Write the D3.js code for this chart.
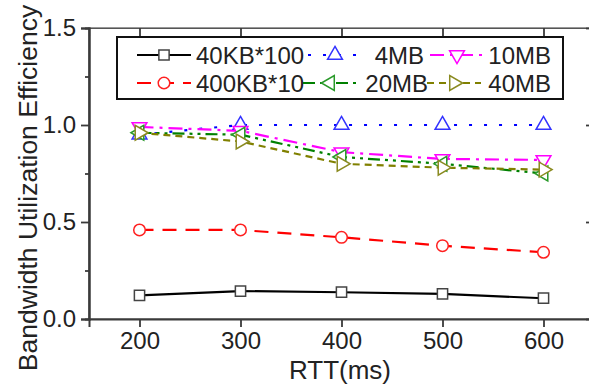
<!DOCTYPE html>
<html>
<head>
<meta charset="UTF-8">
<title>Bandwidth Utilization Efficiency</title>
<script src="https://cdn.jsdelivr.net/npm/d3@7/dist/d3.min.js"></script>
<style>
  body { margin: 0; background: #fff; }
  text { font-family: Arial, "Liberation Sans", sans-serif; fill: #222; }
</style>
</head>
<body>
<script>
// data
var rtt = [200, 300, 400, 500, 600];
var seriesNames = ["40KB*100", "400KB*10", "4MB", "10MB", "20MB", "40MB"];
var kb40x100 = [0.122, 0.144, 0.138, 0.129, 0.107];
var kb400x10 = [0.459, 0.459, 0.421, 0.378, 0.344];
var mb4 = [0.95, 1.0, 1.0, 1.0, 1.0];
var mb10 = [0.99, 0.97, 0.86, 0.825, 0.82];
var mb20 = [0.96, 0.95, 0.835, 0.80, 0.75];
var mb40 = [0.96, 0.915, 0.80, 0.78, 0.77];
var xTicks = [200, 300, 400, 500, 600];
var yTicks = [0.0, 0.5, 1.0, 1.5];
var yMinor = [0.25, 0.75, 1.25];

var width = 589, height = 385;
var svg = d3.select("body").append("svg")
  .attr("width", width).attr("height", height);

var x = d3.scaleLinear().domain([150, 650]).range([89, 594]);
var y = d3.scaleLinear().domain([0, 1.5]).range([319, 28]);

// styles per series
var styles = [
  {color: "#000000", dash: null,             shape: d3.symbolSquare,   rot: 0,   size: 105, mstroke: "#444"},
  {color: "#ff0000", dash: "14,9",           shape: d3.symbolCircle,   rot: 0,   size: 105, mstroke: "#ff2020"},
  {color: "#0000ff", dash: "3,12",           shape: d3.symbolTriangle, rot: 0,   size: 95,  mstroke: "#3333ff"},
  {color: "#ff00ff", dash: "14,6,3,6",       shape: d3.symbolTriangle, rot: 180, size: 95,  mstroke: "#ff00ff"},
  {color: "#008000", dash: "12,5,3,5,3,5",   shape: d3.symbolTriangle, rot: -90, size: 95,  mstroke: "#2a9a2a"},
  {color: "#808000", dash: "7,5",            shape: d3.symbolTriangle, rot: 90,  size: 95,  mstroke: "#8a8a20"}
];
var values = [kb40x100, kb400x10, mb4, mb10, mb20, mb40];

var series = seriesNames.map(function(name, i) {
  return {name: name, style: styles[i], pts: rtt.map(function(r, j) { return {x: r, y: values[i][j]}; })};
});

// frame
var axisColor = "#3a3a3a";
svg.append("rect")
  .attr("x", x(150)).attr("y", y(1.5))
  .attr("width", x(650) - x(150)).attr("height", y(0) - y(1.5))
  .attr("fill", "none").attr("stroke", "#555").attr("stroke-width", 1.2);

// bottom axis
var xAxis = svg.append("g").attr("transform", "translate(0," + y(0) + ")")
  .call(d3.axisBottom(x).tickValues(xTicks).tickSize(8).tickPadding(5).tickFormat(d3.format("d")));
// top mirror ticks (inward)
var xTop = svg.append("g").attr("transform", "translate(0," + y(1.5) + ")")
  .call(d3.axisBottom(x).tickValues(xTicks).tickSize(8).tickFormat(""));
// left axis
var yAxis = svg.append("g").attr("transform", "translate(" + x(150) + ",0)")
  .call(d3.axisLeft(y).tickValues(yTicks).tickSize(8).tickPadding(5).tickFormat(d3.format(".1f")));
var yMin = svg.append("g").attr("transform", "translate(" + x(150) + ",0)")
  .call(d3.axisLeft(y).tickValues(yMinor).tickSize(4).tickFormat(""));
// right mirror ticks (inward)
var yRight = svg.append("g").attr("transform", "translate(" + x(650) + ",0)")
  .call(d3.axisLeft(y).tickValues(yTicks).tickSize(8).tickFormat(""));
var yRightMin = svg.append("g").attr("transform", "translate(" + x(650) + ",0)")
  .call(d3.axisLeft(y).tickValues(yMinor).tickSize(4).tickFormat(""));

[xAxis, xTop, yAxis, yMin, yRight, yRightMin].forEach(function(g) {
  g.selectAll(".domain").attr("stroke", axisColor).attr("stroke-width", 2);
  g.selectAll(".tick line").attr("stroke", axisColor).attr("stroke-width", 1.8);
  g.selectAll(".tick text").attr("font-size", 24).attr("fill", "#222")
    .attr("font-family", "Arial, 'Liberation Sans', sans-serif");
});
xTop.select(".domain").attr("stroke-width", 1.2).attr("stroke", "#555");
yRight.select(".domain").remove();
yRightMin.select(".domain").remove();

// axis titles
svg.append("text").attr("x", 340).attr("y", 379)
  .attr("text-anchor", "middle").attr("font-size", 26).text("RTT(ms)");
svg.append("text")
  .attr("transform", "translate(37,188) rotate(-90)")
  .attr("text-anchor", "middle").attr("font-size", 26.5)
  .text("Bandwidth Utilization Efficiency");

// lines and markers
var line = d3.line().x(function(d) { return x(d.x); }).y(function(d) { return y(d.y); });

function marker(sel, s) {
  sel.attr("d", d3.symbol().type(s.shape).size(s.size))
    .attr("fill", "#fff").attr("stroke", s.mstroke).attr("stroke-width", 1.5);
}

series.forEach(function(s) {
  svg.append("path").datum(s.pts)
    .attr("fill", "none").attr("stroke", s.style.color).attr("stroke-width", 2.2)
    .attr("stroke-dasharray", s.style.dash)
    .attr("d", line);
});
series.forEach(function(s) {
  svg.selectAll(null).data(s.pts).enter().append("path")
    .attr("transform", function(d) { return "translate(" + x(d.x) + "," + y(d.y) + ") rotate(" + s.style.rot + ")"; })
    .call(marker, s.style);
});

// legend
var legend = svg.append("g");
legend.append("rect").attr("x", 117).attr("y", 37).attr("width", 446).attr("height", 62)
  .attr("fill", "#fff").attr("stroke", "#111").attr("stroke-width", 2);

var legPos = [
  {x0: 137, y: 55, tx: 196, anchor: "start"},
  {x0: 137, y: 83, tx: 196, anchor: "start"},
  {x0: 308, y: 55, tx: 424, anchor: "end"},
  {x0: 430, y: 55, tx: 551, anchor: "end"},
  {x0: 303, y: 83, tx: 428, anchor: "end"},
  {x0: 427, y: 83, tx: 551, anchor: "end"}
];
series.forEach(function(s, i) {
  var p = legPos[i];
  legend.append("line").attr("x1", p.x0).attr("x2", p.x0 + 54)
    .attr("y1", p.y).attr("y2", p.y)
    .attr("stroke", s.style.color).attr("stroke-width", 2.2)
    .attr("stroke-dasharray", s.style.dash);
  legend.append("path")
    .attr("transform", "translate(" + (p.x0 + 27) + "," + p.y + ") rotate(" + s.style.rot + ")")
    .call(marker, s.style);
  legend.append("text").attr("x", p.tx).attr("y", p.y + 8.5)
    .attr("text-anchor", p.anchor).attr("font-size", 24).text(s.name);
});
</script>
</body>
</html>
